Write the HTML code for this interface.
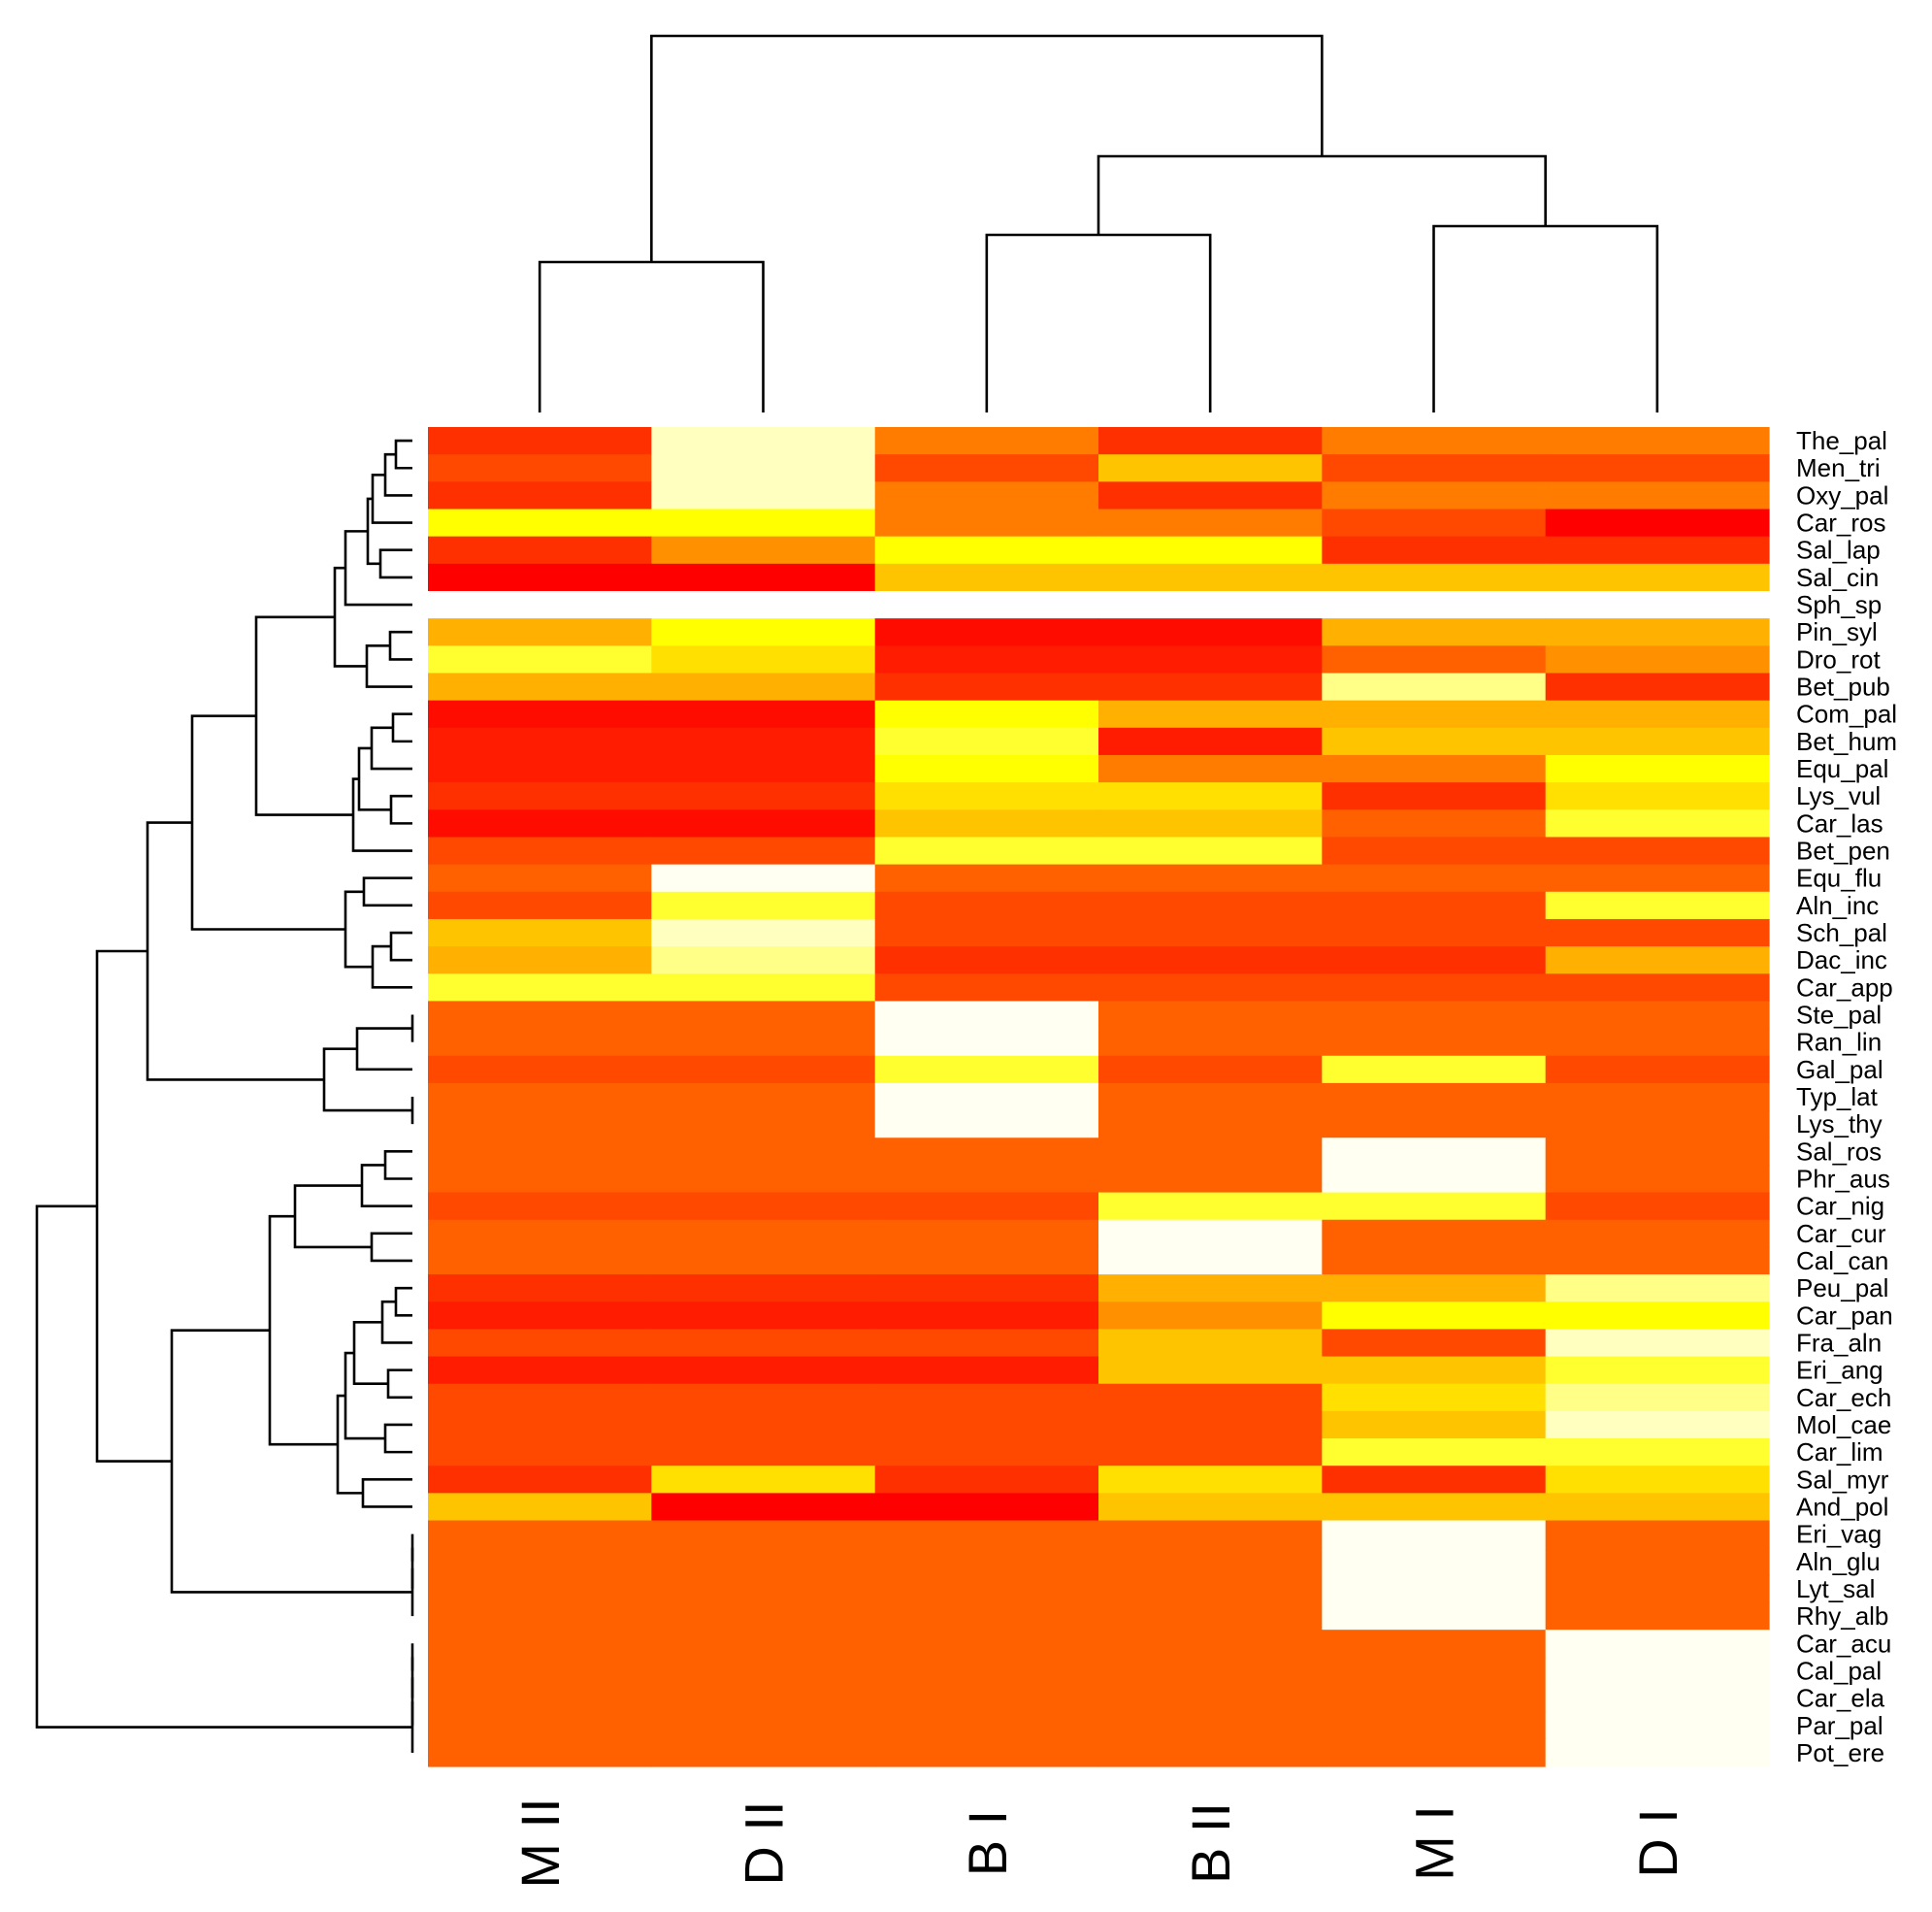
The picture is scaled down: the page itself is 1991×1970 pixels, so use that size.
<!DOCTYPE html>
<html><head><meta charset="utf-8"><style>
html,body{margin:0;padding:0;background:#fff;}
svg{display:block;}
text{font-family:"Liberation Sans",Arial,sans-serif;fill:#000;}
</style></head><body>
<svg id="chart" width="1991" height="1970" viewBox="0 0 1991 1970" xmlns="http://www.w3.org/2000/svg">
<g id="cells"></g>
<g id="rowden"></g>
<g id="colden"></g>
<g id="rowlabels"></g>
<g id="collabels"></g>
</svg>
<script>
const columns = ["M II","D II","B I","B II","M I","D I"];
const rows = ["The_pal","Men_tri","Oxy_pal","Car_ros","Sal_lap","Sal_cin","Sph_sp","Pin_syl","Dro_rot","Bet_pub","Com_pal","Bet_hum","Equ_pal","Lys_vul","Car_las","Bet_pen","Equ_flu","Aln_inc","Sch_pal","Dac_inc","Car_app","Ste_pal","Ran_lin","Gal_pal","Typ_lat","Lys_thy","Sal_ros","Phr_aus","Car_nig","Car_cur","Cal_can","Peu_pal","Car_pan","Fra_aln","Eri_ang","Car_ech","Mol_cae","Car_lim","Sal_myr","And_pol","Eri_vag","Aln_glu","Lyt_sal","Rhy_alb","Car_acu","Cal_pal","Car_ela","Par_pal","Pot_ere"];
const palette = ["#FF0000","#FF0C00","#FF1C00","#FF3000","#FF4800","#FF6000","#FF7C00","#FF9000","#FFB000","#FFC400","#FFE000","#FFFF00","#FFFF30","#FFFF88","#FFFFC0","#FFFFF2","#FFFFFF"];
const values = [
[3,14,6,3,6,6],[4,14,4,9,4,4],[3,14,6,3,6,6],[11,11,6,6,4,0],[3,7,11,11,3,3],[0,0,9,9,9,9],[16,16,16,16,16,16],
[8,11,1,1,8,8],[12,10,2,2,5,7],[8,8,3,3,13,3],[1,1,11,8,8,8],[2,2,12,2,9,9],[2,2,11,6,6,11],[3,3,10,10,3,10],[1,1,9,9,5,12],[4,4,12,12,4,4],
[5,15,5,5,5,5],[4,12,4,4,4,12],[9,14,4,4,4,4],[8,13,3,3,3,8],[12,12,4,4,4,4],
[5,5,15,5,5,5],[5,5,15,5,5,5],[4,4,12,4,12,4],[5,5,15,5,5,5],[5,5,15,5,5,5],
[5,5,5,5,15,5],[5,5,5,5,15,5],[4,4,4,12,12,4],[5,5,5,15,5,5],[5,5,5,15,5,5],
[3,3,3,8,8,13],[2,2,2,7,11,11],[4,4,4,9,4,14],[2,2,2,9,9,12],[4,4,4,4,10,13],[4,4,4,4,9,14],[4,4,4,4,12,12],[3,10,3,10,3,10],[9,0,0,9,9,9],
[5,5,5,5,15,5],[5,5,5,5,15,5],[5,5,5,5,15,5],[5,5,5,5,15,5],
[5,5,5,5,5,15],[5,5,5,5,5,15],[5,5,5,5,5,15],[5,5,5,5,5,15],[5,5,5,5,5,15]];
// dendrogram trees: [height, left, right]; leaves are indices
const colTree = [388,[155,0,1],[264,[183,2,3],[192,4,5]]];
const rowTree = [387,
 [325,
  [273,
   [227,
    [161,
     [80,[69,[46,[41,[28,[17,0,1],2],3],[33,4,5]],6],[47,[23,7,8],9]],
     [61,[55,[42,[20,10,11],12],[22,13,14]],15]],
    [69,[50,16,17],[41,[22,18,19],20]]],
   [91,[57,[0,21,22],23],[0,24,25]]],
  [248,
   [147,
    [121,[52,[28,26,27],28],[42,29,30]],
    [77,[69,[60,[31,[17,31,32],33],[25,34,35]],[28,36,37]],[51,38,39]]],
   [0,[0,[0,40,41],42],43]]],
 [0,[0,[0,[0,44,45],46],47],48]];

const NS="http://www.w3.org/2000/svg";
const X0=441,X1=1823,Y0=440,Y1=1820,BASE=425;
const cw=(X1-X0)/columns.length, rh=(Y1-Y0)/rows.length;
const xCol=i=>X0+(i+0.5)*cw, yRow=i=>Y0+(i+0.5)*rh;
const hScale=h=>BASE-h; // 1px per unit
function mk(tag,attrs,parent){const e=document.createElementNS(NS,tag);for(const k in attrs)e.setAttribute(k,attrs[k]);parent.appendChild(e);return e;}

const gc=document.getElementById('cells');
values.forEach((row,r)=>row.forEach((v,c)=>{
  const e=mk('rect',{x:X0+c*cw,y:Y0+r*rh,width:cw+0.6,height:rh+0.6,fill:palette[v]},gc);
   
}));

const gl=document.getElementById('rowlabels');
rows.forEach((n,i)=>{const t=mk('text',{x:1851,y:yRow(i)+9,'font-size':26},gl);t.textContent=n;
   });
const gcl=document.getElementById('collabels');
columns.forEach((n,i)=>{const cx=xCol(i)+20,cy=1899;const t=mk('text',{x:cx,y:cy,'font-size':56,'text-anchor':'middle',transform:`rotate(-90 ${cx} ${cy})`},gcl);t.textContent=n;
   });

// draw dendrograms
function draw(node,pos,g,vertical){
  if(typeof node==='number') return {p:pos(node),h:0};
  const a=draw(node[1],pos,g,vertical), b=draw(node[2],pos,g,vertical);
  const hv=hScale(node[0]);
  let d;
  if(vertical){ d=`M${a.p},${hScale(a.h)}V${hv}H${b.p}V${hScale(b.h)}`; }
  else { d=`M${hScale(a.h)},${a.p}H${hv}V${b.p}H${hScale(b.h)}`; }
  const e=mk('path',{d:d,fill:'none',stroke:'#000','stroke-width':2.6},g);
   
  return {p:(a.p+b.p)/2,h:node[0]};
}
draw(colTree,xCol,document.getElementById('colden'),true);
draw(rowTree,yRow,document.getElementById('rowden'),false);
</script>
</body></html>
